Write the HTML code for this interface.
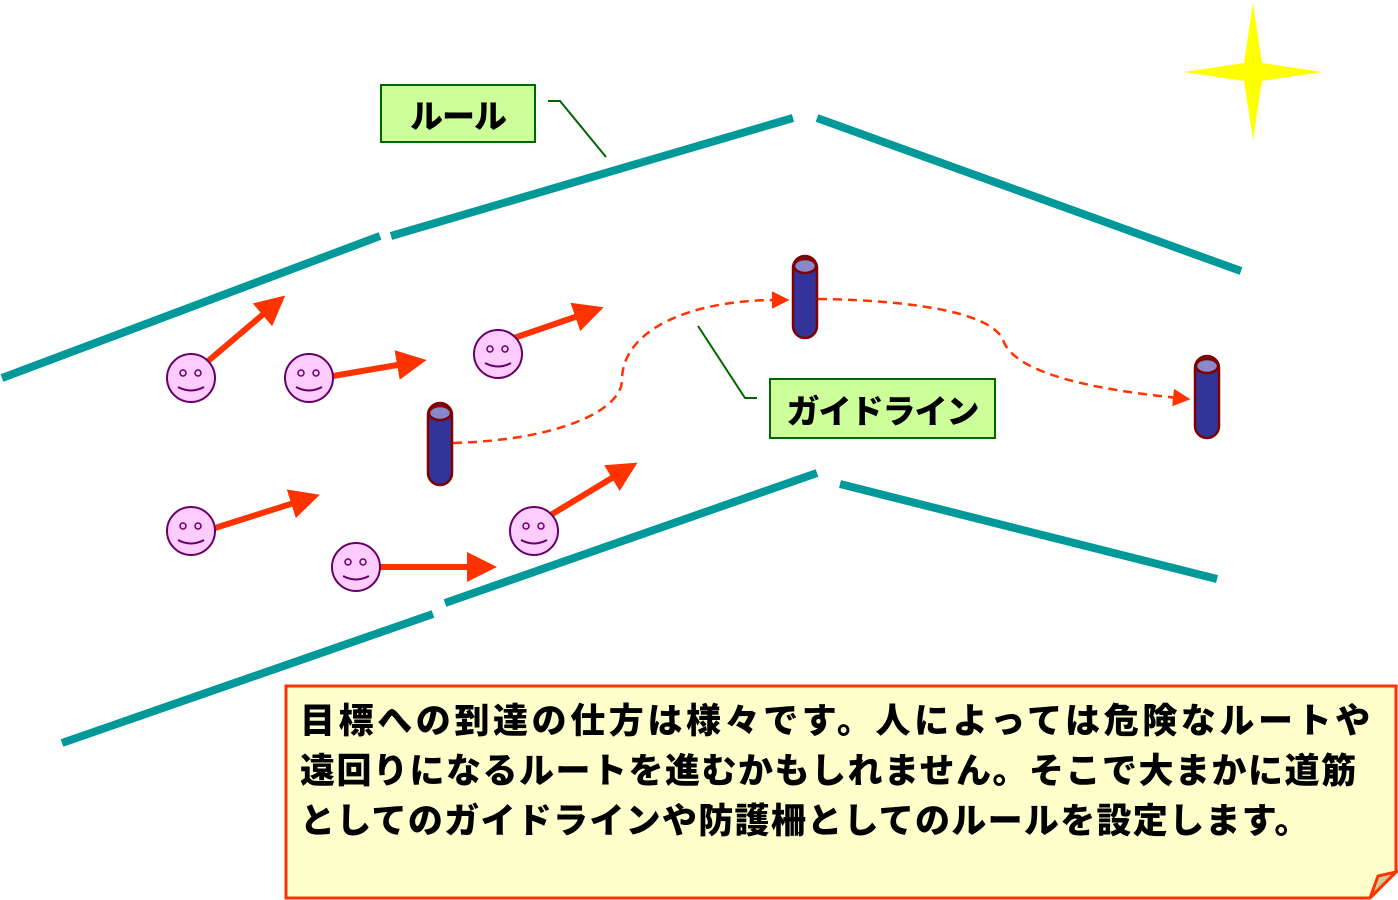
<!DOCTYPE html>
<html><head><meta charset="utf-8"><style>
body{margin:0;background:#fff;width:1398px;height:900px;overflow:hidden;position:relative;font-family:"Liberation Sans","Noto Sans CJK JP",sans-serif}
.t{position:absolute;left:300px;top:697px;font-size:35px;font-weight:900;line-height:50px;color:#000;white-space:nowrap}
.lbl{position:absolute;background:#ccff99;border:2px solid #006600;font-weight:900;font-size:33px;display:flex;align-items:center;justify-content:center;box-sizing:border-box;letter-spacing:-1px}
</style></head><body>
<svg width="1398" height="900" style="position:absolute;left:0;top:0">
<defs>
<marker id="ah" markerWidth="5" markerHeight="5" refX="1" refY="2.5" orient="auto" markerUnits="strokeWidth"><path d="M0,0 L5,2.5 L0,5 Z" fill="#ff3300"/></marker>
<marker id="ah2" markerWidth="7" markerHeight="7" refX="2" refY="3.5" orient="auto" markerUnits="strokeWidth"><path d="M0,0 L7,3.5 L0,7 Z" fill="#ff3300"/></marker>
<g id="face"><circle r="24" fill="#ffccff" stroke="#660066" stroke-width="2"/><circle cx="-8" cy="-5" r="3" fill="none" stroke="#660066" stroke-width="1.5"/><circle cx="7" cy="-5" r="3" fill="none" stroke="#660066" stroke-width="1.5"/><path d="M-13,9 Q0,16 13,9" fill="none" stroke="#660066" stroke-width="2"/></g>
<g id="cyl"><rect x="-12" y="0" width="24" height="82" rx="12" fill="#333399" stroke="#800000" stroke-width="2.5"/><ellipse cx="0" cy="10" rx="11" ry="7" fill="#8888cc" stroke="#800000" stroke-width="2.5"/></g>
</defs>
<g stroke="#009999" stroke-width="8">
<line x1="2" y1="378" x2="380" y2="236"/><line x1="391" y1="236" x2="793" y2="118"/><line x1="817" y1="118" x2="1241" y2="271"/>
<line x1="62" y1="743" x2="433" y2="614"/><line x1="445" y1="603" x2="817" y2="473"/><line x1="840" y1="484" x2="1217" y2="579"/>
</g>
<polygon points="1253,3 1262,63 1322,72 1262,81 1253,140 1244,81 1184,72 1244,63" fill="#ffff00"/>
<polyline points="548,101 560,101 606,157" fill="none" stroke="#006600" stroke-width="2"/>
<polyline points="698,326 745,398 757,398" fill="none" stroke="#006600" stroke-width="2"/>
<g stroke="#ff3300" stroke-width="6" marker-end="url(#ah)">
<line x1="207" y1="362" x2="267" y2="311"/><line x1="333" y1="376" x2="403" y2="364"/><line x1="514" y1="338" x2="581" y2="315"/>
<line x1="215" y1="528" x2="297" y2="502"/><line x1="380" y1="567" x2="473" y2="567"/><line x1="549" y1="516" x2="617" y2="475"/>
</g>
<g fill="none" stroke="#ff3300" stroke-width="2.5" stroke-dasharray="9,6" marker-end="url(#ah2)">
<path d="M453,443 C560,440 622,410 622,380 C622,330 690,300 777,300"/>
<path d="M818,299 C900,300 990,310 1003,340 C1015,375 1100,390 1178,398"/>
</g>
<use href="#cyl" x="440" y="403"/><use href="#cyl" x="805" y="256"/><use href="#cyl" x="1207" y="356"/>
<use href="#face" x="191" y="378"/><use href="#face" x="309" y="378"/><use href="#face" x="498" y="354"/>
<use href="#face" x="191" y="531"/><use href="#face" x="356" y="567"/><use href="#face" x="534" y="531"/>
<path d="M286,686 H1396 V872 L1370,898 H286 Z" fill="#ffffcc" stroke="#ff3300" stroke-width="3"/>
<path d="M1370,898 L1378,876 L1396,872 Z" fill="#cccc99" stroke="#ff3300" stroke-width="3"/>
</svg>
<div class="lbl" style="left:380px;top:84px;width:156px;height:59px">ルール</div>
<div class="lbl" style="left:769px;top:378px;width:227px;height:61px">ガイドライン</div>
<div class="t"><span style="letter-spacing:3.6px">目標への到達の仕方は様々です。人によっては危険なルートや</span><br><span style="letter-spacing:1.5px">遠回りになるルートを進むかもしれません。そこで大まかに道筋</span><br><span style="letter-spacing:1.3px">としてのガイドラインや防護柵としてのルールを設定します。</span></div>
</body></html>
